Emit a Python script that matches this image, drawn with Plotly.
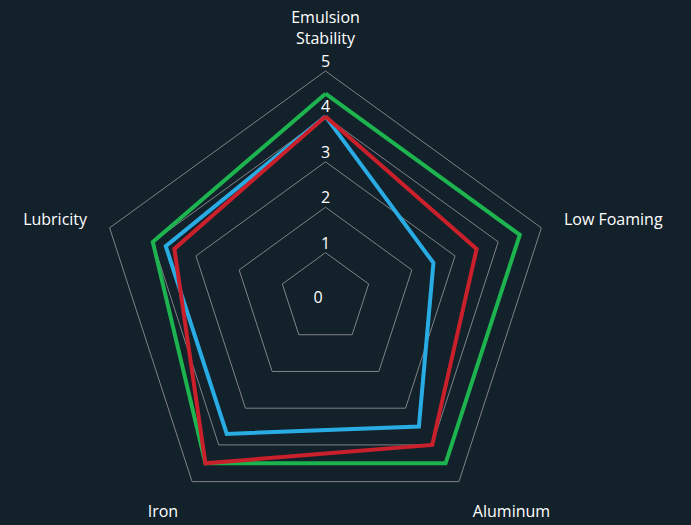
import plotly.graph_objects as go

categories = ["Emulsion<br>Stability", "Low Foaming", "Aluminum", "Iron", "Lubricity"]
series_names = ["Product A", "Product B", "Product C"]
green_values = [4.5, 4.5, 4.5, 4.5, 4.0]
blue_values = [4.0, 2.5, 3.5, 3.7, 3.7]
red_values = [4.0, 3.5, 4.0, 4.5, 3.5]
tick_values = [0, 1, 2, 3, 4, 5]
tick_labels = ["0", "1", "2", "3", "4", "5"]

colors = ["#1DB34F", "#29ACE3", "#C9202B"]
bg = "#13212B"
grid = "#7F8386"
font_family = "Open Sans, Noto Sans, sans-serif"

fig = go.Figure()
for name, vals, col in zip(series_names, [green_values, blue_values, red_values], colors):
    fig.add_trace(go.Scatterpolar(
        r=vals + vals[:1],
        theta=categories + categories[:1],
        mode="lines",
        name=name,
        line=dict(color=col, width=4),
        showlegend=False,
    ))

# tick numbers drawn just above each grid vertex on the top spoke
fig.add_trace(go.Scatterpolar(
    r=tick_values[1:],
    theta=[categories[0]] * (len(tick_values) - 1),
    mode="text",
    text=tick_labels[1:],
    textposition="top center",
    textfont=dict(color="white", size=16, family=font_family),
    showlegend=False,
    hoverinfo="skip",
))

fig.update_layout(
    width=691,
    height=525,
    margin=dict(l=60, r=100, t=71, b=0),
    paper_bgcolor=bg,
    plot_bgcolor=bg,
    font=dict(family=font_family, color="white", size=16),
    polar=dict(
        bgcolor=bg,
        gridshape="linear",
        radialaxis=dict(
            range=[0, 5],
            tickvals=tick_values,
            ticktext=[tick_labels[0]] + [""] * (len(tick_values) - 1),
            showticklabels=True,
            angle=90,
            tickangle=90,
            side="counterclockwise",
            tickfont=dict(color="white", size=16, family=font_family),
            ticks="",
            showline=False,
            gridcolor=grid,
            gridwidth=1,
        ),
        angularaxis=dict(
            direction="clockwise",
            rotation=90,
            showgrid=False,
            showline=True,
            linecolor=grid,
            linewidth=1,
            ticks="outside",
            ticklen=20,
            tickcolor="rgba(0,0,0,0)",
            tickfont=dict(color="white", size=16, family=font_family),
        ),
    ),
)

fig.write_html(
    "out.html",
    config={"displayModeBar": False},
    post_script="document.body.style.margin='0';document.body.style.overflow='hidden';document.body.style.background='#13212B';",
)
